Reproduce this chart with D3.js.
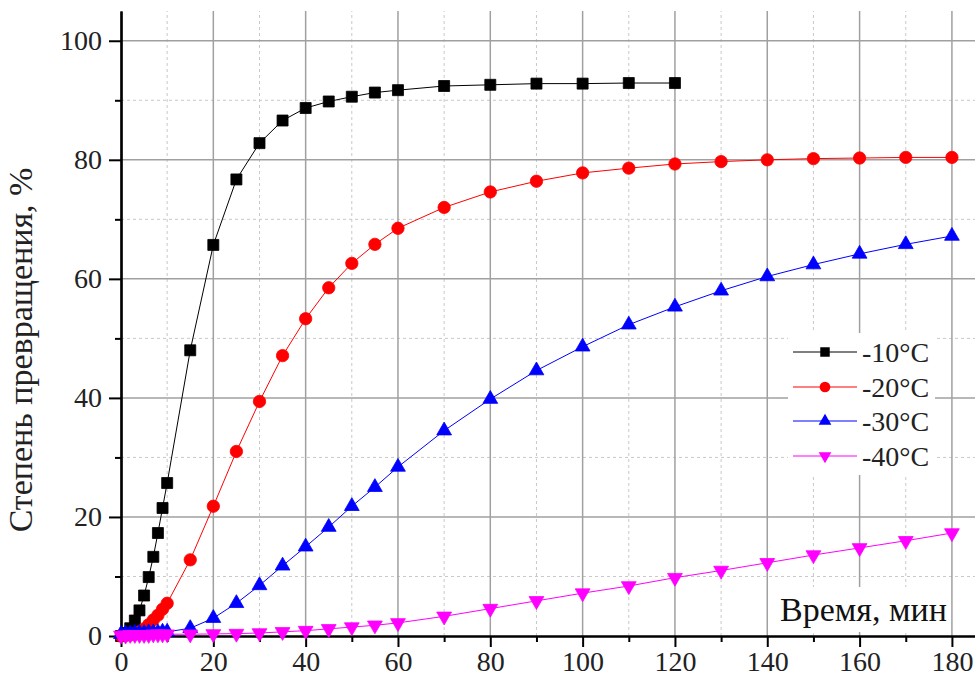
<!DOCTYPE html>
<html>
<head>
<meta charset="utf-8">
<script src="https://cdn.jsdelivr.net/npm/d3@7"></script>
<style>
  html, body { margin: 0; padding: 0; background: #fff; }
  svg { display: block; }
  svg text { font-family: "Liberation Serif", "DejaVu Serif", serif !important; }
</style>
</head>
<body>
<div id="chart"></div>
<script>
// time points, min
const timeShort = [0, 1, 2, 3, 4, 5, 6, 7, 8, 9, 10, 15, 20, 25, 30, 35, 40, 45, 50, 55, 60, 70, 80, 90, 100, 110, 120];
const timeLong = [0, 1, 2, 3, 4, 5, 6, 7, 8, 9, 10, 15, 20, 25, 30, 35, 40, 45, 50, 55, 60, 70, 80, 90, 100, 110, 120, 130, 140, 150, 160, 170, 180];

// conversion degree, %
const minus10 = [0, 0.5, 1.3, 2.6, 4.3, 6.8, 9.9, 13.3, 17.3, 21.5, 25.7, 48.0, 65.7, 76.7, 82.8, 86.6, 88.7, 89.8, 90.6, 91.3, 91.7, 92.4, 92.6, 92.8, 92.8, 92.9, 92.9];
const minus20 = [0, 0.1, 0.2, 0.4, 0.7, 1.2, 1.9, 2.7, 3.5, 4.5, 5.5, 12.8, 21.8, 31.0, 39.4, 47.1, 53.3, 58.5, 62.6, 65.8, 68.5, 72.0, 74.6, 76.4, 77.8, 78.6, 79.3, 79.7, 80.0, 80.2, 80.3, 80.4, 80.4];
const minus30 = [0.3, 0.4, 0.4, 0.5, 0.5, 0.5, 0.6, 0.6, 0.6, 0.7, 0.7, 1.3, 3.0, 5.5, 8.5, 11.8, 15.0, 18.3, 21.8, 25.0, 28.4, 34.5, 39.8, 44.6, 48.6, 52.3, 55.3, 58.0, 60.4, 62.4, 64.2, 65.8, 67.2];
const minus40 = [0.1, 0.1, 0.2, 0.2, 0.2, 0.2, 0.2, 0.3, 0.3, 0.3, 0.3, 0.3, 0.35, 0.4, 0.5, 0.7, 0.9, 1.2, 1.5, 1.8, 2.2, 3.3, 4.6, 5.9, 7.2, 8.4, 9.8, 11.0, 12.3, 13.6, 14.8, 16.0, 17.3];

const seriesNames = ["-10°C", "-20°C", "-30°C", "-40°C"];
const xMajor = [0, 20, 40, 60, 80, 100, 120, 140, 160, 180];
const xMinor = [10, 30, 50, 70, 90, 110, 130, 150, 170];
const yMajor = [0, 20, 40, 60, 80, 100];
const yMinor = [10, 30, 50, 70, 90];
const xTitle = "Время, мин";
const yTitle = "Степень превращения, %";

const width = 975, height = 682;
const serif = "'Liberation Serif', 'DejaVu Serif', serif";

const series = [
  { name: seriesNames[0], t: timeShort, v: minus10, color: "#000000", shape: "square" },
  { name: seriesNames[1], t: timeLong, v: minus20, color: "#ff0000", shape: "circle" },
  { name: seriesNames[2], t: timeLong, v: minus30, color: "#0000ff", shape: "up" },
  { name: seriesNames[3], t: timeLong, v: minus40, color: "#ff00ff", shape: "down" }
];

const xScale = d3.scaleLinear().domain([0, 185]).range([121, 975]);
const yScale = d3.scaleLinear().domain([0, 105]).range([636, 11]);

const svg = d3.select("#chart")
  .append("svg")
    .attr("width", width)
    .attr("height", height)
    .attr("viewBox", [0, 0, width, height])
    .attr("font-family", serif);

// grid
const grid = svg.append("g");
grid.selectAll(".vminor")
  .data(xMinor)
  .join("line")
    .attr("x1", d => xScale(d)).attr("x2", d => xScale(d))
    .attr("y1", yScale(0)).attr("y2", yScale(105))
    .attr("stroke", "#c8c8c8").attr("stroke-width", 1).attr("stroke-dasharray", "3,3");
grid.selectAll(".hminor")
  .data(yMinor)
  .join("line")
    .attr("x1", xScale(0)).attr("x2", xScale(185))
    .attr("y1", d => yScale(d)).attr("y2", d => yScale(d))
    .attr("stroke", "#c8c8c8").attr("stroke-width", 1).attr("stroke-dasharray", "3,3");
grid.selectAll(".vmajor")
  .data(xMajor.slice(1))
  .join("line")
    .attr("x1", d => xScale(d)).attr("x2", d => xScale(d))
    .attr("y1", yScale(0)).attr("y2", yScale(105))
    .attr("stroke", "#a0a0a0").attr("stroke-width", 1.5);
grid.selectAll(".hmajor")
  .data(yMajor.slice(1))
  .join("line")
    .attr("x1", xScale(0)).attr("x2", xScale(185))
    .attr("y1", d => yScale(d)).attr("y2", d => yScale(d))
    .attr("stroke", "#a0a0a0").attr("stroke-width", 1.5);

// white box behind the x title
svg.append("rect")
  .attr("x", 777).attr("y", 587).attr("width", 172).attr("height", 45)
  .attr("fill", "#fff");
svg.append("text")
  .attr("x", 780).attr("y", 621)
  .attr("font-size", 34)
  .attr("fill", "#111")
  .text(xTitle);

// axes
const bottomAxis = d3.axisBottom(xScale)
  .tickValues(xMajor)
  .tickSize(11)
  .tickSizeOuter(0)
  .tickPadding(4);
const bottomMinor = d3.axisBottom(xScale)
  .tickValues(xMinor)
  .tickSize(6)
  .tickSizeOuter(0)
  .tickFormat("");

svg.append("g")
  .attr("transform", `translate(0, ${yScale(0)})`)
  .call(bottomAxis);
svg.append("g")
  .attr("transform", `translate(0, ${yScale(0)})`)
  .call(bottomMinor);

const leftAxis = d3.axisLeft(yScale)
  .tickValues(yMajor)
  .tickSize(12)
  .tickSizeOuter(0)
  .tickPadding(7);
const leftMinor = d3.axisLeft(yScale)
  .tickValues(yMinor)
  .tickSize(6)
  .tickSizeOuter(0)
  .tickFormat("");

svg.append("g")
  .attr("transform", `translate(${xScale(0)}, 0)`)
  .call(leftAxis);
svg.append("g")
  .attr("transform", `translate(${xScale(0)}, 0)`)
  .call(leftMinor);

svg.selectAll("g").filter(function() { return this.hasAttribute("font-family"); })
  .attr("font-family", serif);
svg.selectAll(".domain").attr("stroke", "#000").attr("stroke-width", 2.2);
svg.selectAll(".tick line").attr("stroke", "#000").attr("stroke-width", 2);
svg.selectAll(".tick text")
  .attr("font-family", serif)
  .attr("font-size", 28)
  .attr("fill", "#222");

svg.append("text")
  .attr("transform", `translate(32, 350) rotate(-90)`)
  .attr("text-anchor", "middle")
  .attr("font-size", 34)
  .attr("fill", "#222")
  .text(yTitle);

// markers
const symbolPath = (shape, big) => {
  if (shape === "square") return d3.symbol(d3.symbolSquare, big ? 121 : 90)();
  if (shape === "circle") return d3.symbol(d3.symbolCircle, big ? 120 : 90)();
  return d3.symbol(d3.symbolTriangle, big ? 95 : 70)();
};

const line = d3.line()
  .x(d => xScale(d[0]))
  .y(d => yScale(d[1]));

series.forEach(s => {
  const pts = s.t.map((t, i) => [t, s.v[i]]);
  const g = svg.append("g");
  g.append("path")
    .datum(pts)
    .attr("d", line)
    .attr("fill", "none")
    .attr("stroke", s.color)
    .attr("stroke-width", 1);
  g.selectAll("path.mark")
    .data(pts)
    .join("path")
      .attr("class", "mark")
      .attr("d", symbolPath(s.shape, true))
      .attr("transform", d => `translate(${xScale(d[0])}, ${yScale(d[1])})${s.shape === "down" ? " rotate(180)" : ""}`)
      .attr("fill", s.color)
      .attr("stroke", s.color)
      .attr("stroke-width", 0.8);
});

// legend
const legend = svg.append("g");
legend.append("rect")
  .attr("x", 788).attr("y", 333).attr("width", 147).attr("height", 142)
  .attr("fill", "#fff");
const rowY = [352, 387, 421, 456];
series.forEach((s, i) => {
  legend.append("line")
    .attr("x1", 793).attr("x2", 857)
    .attr("y1", rowY[i]).attr("y2", rowY[i])
    .attr("stroke", s.color).attr("stroke-width", 1);
  legend.append("path")
    .attr("d", symbolPath(s.shape, false))
    .attr("transform", `translate(825, ${rowY[i]})${s.shape === "down" ? " rotate(180)" : ""}`)
    .attr("fill", s.color);
  legend.append("text")
    .attr("x", 862).attr("y", rowY[i] + 10)
    .attr("font-size", 28)
    .attr("fill", "#222")
    .text(s.name);
});
</script>
</body>
</html>
